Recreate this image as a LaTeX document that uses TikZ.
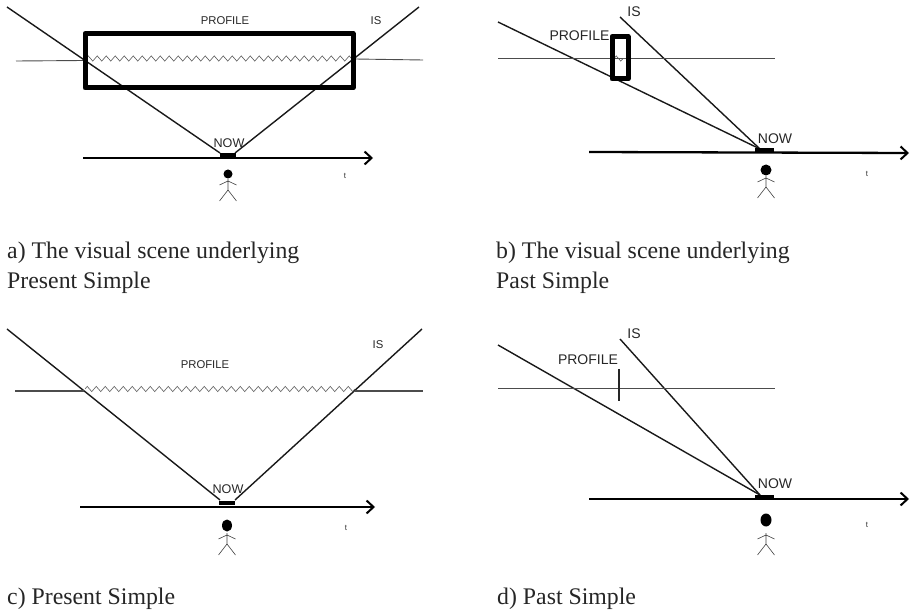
\documentclass[tikz,border=0pt]{standalone}
\usepackage{fontspec}
\setmainfont{Liberation Serif}
\newfontfamily\lblfont{Liberation Sans}
\usetikzlibrary{decorations.pathmorphing,arrows.meta}
\tikzset{
  sight/.style={line width=1.4pt,black!90},
  ground/.style={line width=0.9pt,black!70},
  wavy/.style={line width=0.6pt,black!65,decorate,decoration={zigzag,amplitude=2.6pt,segment length=9pt}},
  focus/.style={line width=5pt,black,line join=round},
  timeaxis/.style={line width=2.3pt,black,-{Straight Barb[length=7pt,width=13pt,line width=2pt]}},
  nowbar/.style={line width=4.5pt,black},
  limb/.style={line width=0.6pt,black!75},
  lbl/.style={font=\lblfont\fontsize{11.3}{13}\selectfont,text=black!85,inner sep=0pt},
  biglbl/.style={font=\lblfont\fontsize{14}{16}\selectfont,text=black!85,inner sep=0pt},
  midlbl/.style={font=\lblfont\fontsize{12.6}{14}\selectfont,text=black!85,inner sep=0pt},
  tlbl/.style={font=\lblfont\fontsize{8}{9}\selectfont,text=black!80,inner sep=0pt},
  caption/.style={font=\fontsize{23.8}{26}\selectfont,text=black!85,anchor=base west,inner sep=0pt},
}
\newcommand{\stick}[5]{% x, head y, rx, ry, neck y
  \fill[black] (#1,#2) ellipse [x radius=#3pt,y radius=#4pt];
  \draw[limb] (#1,#5) -- (#1,#5+11) (#1-8.5,#5+6) -- (#1,#5+2) -- (#1+8.5,#5+6)
     (#1-8.5,#5+22) -- (#1,#5+11) -- (#1+8.5,#5+22);
}
\begin{document}
\begin{tikzpicture}[x=1pt,y=-1pt]
\useasboundingbox (0,0) rectangle (911,612);
% a
\draw[sight] (7,7) -- (220,153);
\draw[sight] (419,7) -- (235,153);
\draw[ground] (16,61) -- (84,60.5);
\draw[ground] (355,59) -- (423,60);
\draw[wavy] (86,58.5) -- (352,58.5);
\draw[focus] (85,33.5) rectangle (353,88);
\draw[timeaxis] (83,158) -- (373,158);
\draw[nowbar] (220,155) -- (236,155);
\stick{228}{174}{4.5}{4.5}{179}
\node[lbl] (a1) at (225,21) {PROFILE};
\node[lbl] (a2) at (376,21) {IS};
\node[midlbl] (a3) at (229,143) {NOW};
\node[tlbl] (a4) at (345,176) {t};
\node[caption] (a5) at (7,259) {a) The visual scene underlying};
\node[caption] (a6) at (7,289) {Present Simple};
% b
\draw[sight] (498,22) -- (760,149);
\draw[sight] (620,17) -- (760,149);
\draw[ground,line width=0.7pt] (498,58.5) -- (775,58.5);
\draw[wavy] (614,58.5) -- (626,58.5);
\draw[focus] (612,36.5) rectangle (628,79);
\draw[timeaxis] (589,152) -- (909,153);
\draw[nowbar] (755,150) -- (774,150);
\stick{766}{170}{5.5}{5.5}{176}
\node[biglbl] (b1) at (579.5,36) {PROFILE};
\node[biglbl] (b2) at (634,12) {IS};
\node[biglbl] (b3) at (775,139) {NOW};
\node[tlbl] (b4) at (867,174) {t};
\node[caption] (b5) at (496,259) {b) The visual scene underlying};
\node[caption] (b6) at (496,289) {Past Simple};
% c
\draw[sight] (7,329) -- (220,500);
\draw[sight] (422,329) -- (235,500);
\draw[ground,line width=1.3pt] (15,391) -- (84,391);
\draw[ground,line width=1.3pt] (355,391) -- (423,391);
\draw[wavy] (85,389) -- (355,389);
\draw[timeaxis] (80,507) -- (375,507);
\draw[nowbar] (219,503) -- (235,503);
\stick{227}{525.5}{5}{6}{533}
\node[lbl] (c1) at (205,365) {PROFILE};
\node[lbl] (c2) at (378,345) {IS};
\node[midlbl] (c3) at (228,489) {NOW};
\node[tlbl] (c4) at (346,528) {t};
\node[caption] (c5) at (7,604) {c) Present Simple};
% d
\draw[sight] (498,345) -- (760,495);
\draw[sight] (620,339) -- (760,495);
\draw[ground,line width=0.7pt] (498,388) -- (775,388);
\draw[line width=1.3pt,black!85] (619,369) -- (619,401);
\draw[timeaxis] (589,499) -- (909,499);
\draw[nowbar] (755,497) -- (774,497);
\stick{766}{520}{5.5}{6.5}{533}
\node[biglbl] (d1) at (588,360) {PROFILE};
\node[biglbl] (d2) at (634,334) {IS};
\node[biglbl] (d3) at (775,484) {NOW};
\node[tlbl] (d4) at (867,525) {t};
\node[caption] (d5) at (497,604) {d) Past Simple};
\end{tikzpicture}
\end{document}
